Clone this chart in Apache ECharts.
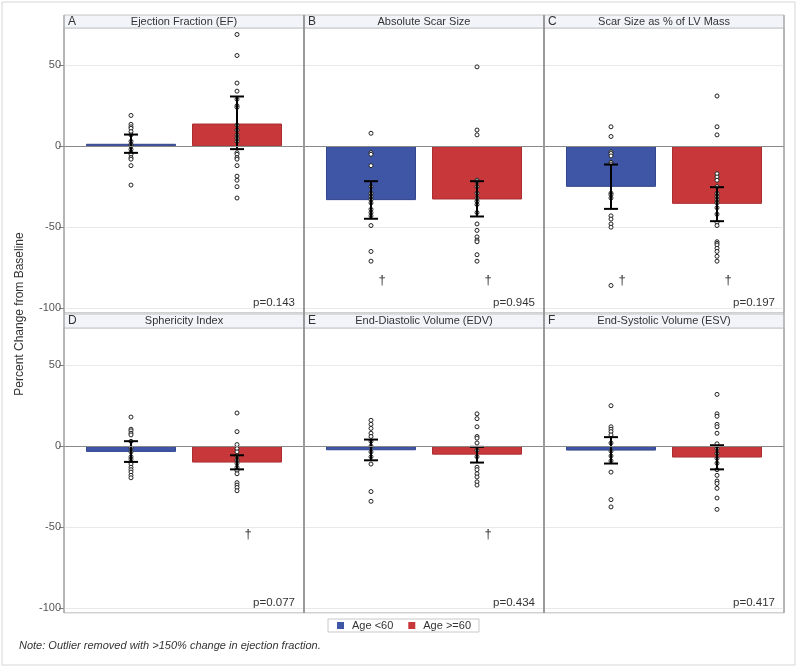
<!DOCTYPE html>
<html>
<head>
<meta charset="utf-8">
<script src="https://cdn.jsdelivr.net/npm/echarts@6/dist/echarts.min.js"></script>
<style>html,body{margin:0;padding:0;background:#fff;}#main{width:800px;height:667px;}</style>
</head>
<body>
<div id="main"></div>
<script>
// ---------- data ----------
const panelLetters = ['A', 'B', 'C', 'D', 'E', 'F'];
const panelTitles = ['Ejection Fraction (EF)', 'Absolute Scar Size', 'Scar Size as % of LV Mass',
  'Sphericity Index', 'End-Diastolic Volume (EDV)', 'End-Systolic Volume (ESV)'];
const groupNames = ['Age <60', 'Age >=60'];
const meansYoung = [1.5, -33.3, -25.1, -3.5, -2.5, -2.7];
const meansOld = [14.0, -32.9, -35.6, -10.1, -5.2, -7.0];
const ciYoungLow = [-4.1, -44.8, -38.7, -9.7, -8.7, -10.7];
const ciYoungHigh = [7.2, -21.6, -11.3, 3.1, 4.1, 5.6];
const ciOldLow = [-1.8, -43.4, -46.3, -14.3, -10.1, -14.3];
const ciOldHigh = [30.7, -21.6, -25.3, -5.6, -0.4, 0.6];
const pValues = ['p=0.143', 'p=0.945', 'p=0.197', 'p=0.077', 'p=0.434', 'p=0.417'];
const daggerYoung = [null, -83, -83, null, null, null];
const daggerOld = [null, -83, -83, -54.5, -54.5, null];
const yTicks = [-100, -50, 0, 50];

const pointsYoungA = [19, 13.5, 12, 11, 9, 7, 3, 1, 0, -2, -4, -5, -7, -8, -12, -24];
const pointsOldA = [69, 56, 39, 34, 29, 25, 24, 13, 10, 7, 5, 3, -4, -5, -7, -8, -12, -18.5, -21, -25, -32];
const pointsYoungB = [8, -4, -5, -12, -25, -29, -31, -33, -35, -39, -41, -43, -49, -65, -71];
const pointsOldB = [49, 10, 7, -21, -22, -25, -29, -32, -34, -36, -41, -48, -52, -56, -58, -59, -67, -71];
const pointsYoungC = [12, 6, -3.5, -4.5, -6, -10, -11, -29, -30, -32, -43, -45, -48, -50, -86];
const pointsOldC = [31, 12, 7, -17, -19, -21, -25, -29, -31, -33, -35, -38, -42, -47, -49, -59, -60, -61, -63, -65, -68, -71];
const pointsYoungD = [18, 10.5, 9.5, 8, 7, 3, -1, -3.5, -6.5, -8, -11, -13, -14.5, -16, -18, -19.5];
const pointsOldD = [20.5, 9, 1, -1.5, -3.5, -6, -8.5, -10.5, -13, -15, -17, -22.5, -24, -25.5, -27.5];
const pointsYoungE = [16, 13.5, 11, 8, 6, 3, 0, -3.5, -6.5, -11, -28, -34];
const pointsOldE = [20, 17, 12, 6, 5, 2, -2.5, -6.5, -13, -14.5, -17, -19, -22, -24];
const pointsYoungF = [25, 12, 10.5, 9, 7, 2, -3, -6, -9, -16, -33, -37.5];
const pointsOldF = [32, 20, 18.5, 13.5, 12, 8, 1.5, -1.5, -4.5, -7.5, -10.5, -14.5, -18, -21.5, -23, -26, -32, -39];

const pointsYoung = [pointsYoungA, pointsYoungB, pointsYoungC, pointsYoungD, pointsYoungE, pointsYoungF];
const pointsOld = [pointsOldA, pointsOldB, pointsOldC, pointsOldD, pointsOldE, pointsOldF];

// ---------- styling / layout ----------
const FONT = '"Liberation Sans", Arial, sans-serif';
const BLUE = '#3f55a5';
const RED = '#c8383a';
const chart = echarts.init(document.getElementById('main'));

const grids = [], xAxes = [], yAxes = [], series = [], graphics = [];

function errRender(params, api) {
  const x = api.value(0);
  const lo = api.coord([x, api.value(1)]);
  const hi = api.coord([x, api.value(2)]);
  const hw = 7;
  const st = { stroke: '#000', lineWidth: 2 };
  return {
    type: 'group',
    children: [
      { type: 'line', shape: { x1: lo[0], y1: lo[1], x2: hi[0], y2: hi[1] }, style: st },
      { type: 'line', shape: { x1: lo[0] - hw, y1: lo[1], x2: lo[0] + hw, y2: lo[1] }, style: st },
      { type: 'line', shape: { x1: hi[0] - hw, y1: hi[1], x2: hi[0] + hw, y2: hi[1] }, style: st }
    ]
  };
}
function daggerRender(params, api) {
  const p = api.coord([api.value(0), api.value(1)]);
  return {
    type: 'text',
    style: { text: '\u2020', x: p[0] + 11, y: p[1], align: 'center', verticalAlign: 'middle',
      fill: '#333', font: '13px ' + FONT }
  };
}

for (let i = 0; i < 6; i++) {
  const col = i % 3, row = Math.floor(i / 3);
  const left = 64 + col * 240;
  const top = row ? 328 : 28;
  grids.push({ left: left, top: top, width: 240, height: 285, show: true,
    borderColor: '#a3a3a3', borderWidth: 1, backgroundColor: '#fff' });
  xAxes.push({ gridIndex: i, type: 'value', min: -0.632, max: 1.632, show: false });
  yAxes.push({
    gridIndex: i, type: 'value', min: -103, max: 73, splitNumber: 4, position: 'left',
    axisLine: { show: false, onZero: false },
    axisTick: { show: col === 0, length: 5, lineStyle: { color: '#808080' } },
    axisLabel: { show: col === 0, color: '#555', fontSize: 11, fontFamily: FONT, margin: 3,
      showMinLabel: false, showMaxLabel: false,
      formatter: function (v) { return yTicks.indexOf(v) >= 0 ? String(v) : ''; } },
    splitLine: { show: true, lineStyle: { color: '#e9e9e9', width: 1 } }
  });

  series.push({
    name: groupNames[0], type: 'bar', xAxisIndex: i, yAxisIndex: i, barWidth: 90, barGap: '-100%',
    itemStyle: { color: BLUE, borderColor: '#33468c', borderWidth: 1 },
    data: [[0, meansYoung[i]]], z: 2,
    markLine: { silent: true, symbol: ['none', 'none'], label: { show: false },
      lineStyle: { color: '#8a8a8a', width: 1, type: 'solid' }, data: [{ yAxis: 0 }] }
  });
  series.push({
    name: groupNames[1], type: 'bar', xAxisIndex: i, yAxisIndex: i, barWidth: 90, barGap: '-100%',
    itemStyle: { color: RED, borderColor: '#a82e30', borderWidth: 1 },
    data: [[1, meansOld[i]]], z: 2
  });
  series.push({
    name: 'pts' + i + 'y', type: 'scatter', xAxisIndex: i, yAxisIndex: i, symbol: 'circle', symbolSize: 4,
    itemStyle: { color: '#fff', borderColor: '#222', borderWidth: 1, opacity: 1 },
    data: pointsYoung[i].map(v => [0, v]), z: 3
  });
  series.push({
    name: 'pts' + i + 'o', type: 'scatter', xAxisIndex: i, yAxisIndex: i, symbol: 'circle', symbolSize: 4,
    itemStyle: { color: '#fff', borderColor: '#222', borderWidth: 1, opacity: 1 },
    data: pointsOld[i].map(v => [1, v]), z: 3
  });
  series.push({
    name: 'err' + i, type: 'custom', xAxisIndex: i, yAxisIndex: i, renderItem: errRender,
    encode: { x: 0, y: [1, 2] },
    data: [[0, ciYoungLow[i], ciYoungHigh[i]], [1, ciOldLow[i], ciOldHigh[i]]], z: 4
  });
  const dg = [];
  if (daggerYoung[i] !== null) dg.push([0, daggerYoung[i]]);
  if (daggerOld[i] !== null) dg.push([1, daggerOld[i]]);
  if (dg.length) {
    series.push({ name: 'dag' + i, type: 'custom', xAxisIndex: i, yAxisIndex: i,
      renderItem: daggerRender, encode: { x: 0, y: 1 }, data: dg, z: 5 });
  }

  // header strip
  const hTop = row ? 314 : 15;
  graphics.push({ type: 'rect', shape: { x: left, y: hTop, width: 240, height: top - hTop },
    style: { fill: '#f2f4f9', stroke: '#c4c4c4', lineWidth: 1 }, z: 10 });
  graphics.push({ type: 'text', x: left + 4, y: hTop + (top - hTop) / 2,
    style: { text: panelLetters[i], fill: '#333', font: '12px ' + FONT, verticalAlign: 'middle' }, z: 11 });
  graphics.push({ type: 'text', x: left + 120, y: hTop + (top - hTop) / 2,
    style: { text: panelTitles[i], fill: '#333', font: '11px ' + FONT, align: 'center', verticalAlign: 'middle' }, z: 11 });
  // p value
  graphics.push({ type: 'text', x: left + 231, y: top + 275,
    style: { text: pValues[i], fill: '#333', font: '11.5px ' + FONT, align: 'right', verticalAlign: 'middle' }, z: 11 });
}

// panel dividers (darker, heavier), outer frame, y-axis title, footnote
[64, 304, 544, 784].forEach(function (x) {
  graphics.push({ type: 'line', shape: { x1: x, y1: 15, x2: x, y2: 613 },
    style: { stroke: '#9a9a9a', lineWidth: (x === 304 || x === 544) ? 2 : 1 }, z: 12 });
});
graphics.push({ type: 'rect', shape: { x: 2, y: 2, width: 793, height: 663 },
  style: { fill: 'none', stroke: '#d6d6d6', lineWidth: 1 }, z: 0 });
graphics.push({ type: 'text', x: 20, y: 314, rotation: Math.PI / 2,
  style: { text: 'Percent Change from Baseline', fill: '#333', font: '12px ' + FONT,
    align: 'center', verticalAlign: 'middle' }, z: 11 });
graphics.push({ type: 'text', x: 19, y: 646,
  style: { text: 'Note: Outlier removed with >150% change in ejection fraction.', fill: '#333',
    font: 'italic 11px ' + FONT, verticalAlign: 'middle' }, z: 11 });

chart.setOption({
  animation: false,
  backgroundColor: '#fff',
  grid: grids,
  xAxis: xAxes,
  yAxis: yAxes,
  legend: {
    data: groupNames, left: 328, top: 619, orient: 'horizontal',
    padding: [1, 8, 1, 9], itemGap: 15, itemWidth: 7, itemHeight: 7, icon: 'rect',
    borderColor: '#c8c8c8', borderWidth: 1,
    itemStyle: { borderWidth: 0 },
    textStyle: { fontSize: 11, fontFamily: FONT, color: '#333', padding: [0, 0, 0, 3] },
    selectedMode: false
  },
  graphic: graphics,
  series: series
});
</script>
</body>
</html>
